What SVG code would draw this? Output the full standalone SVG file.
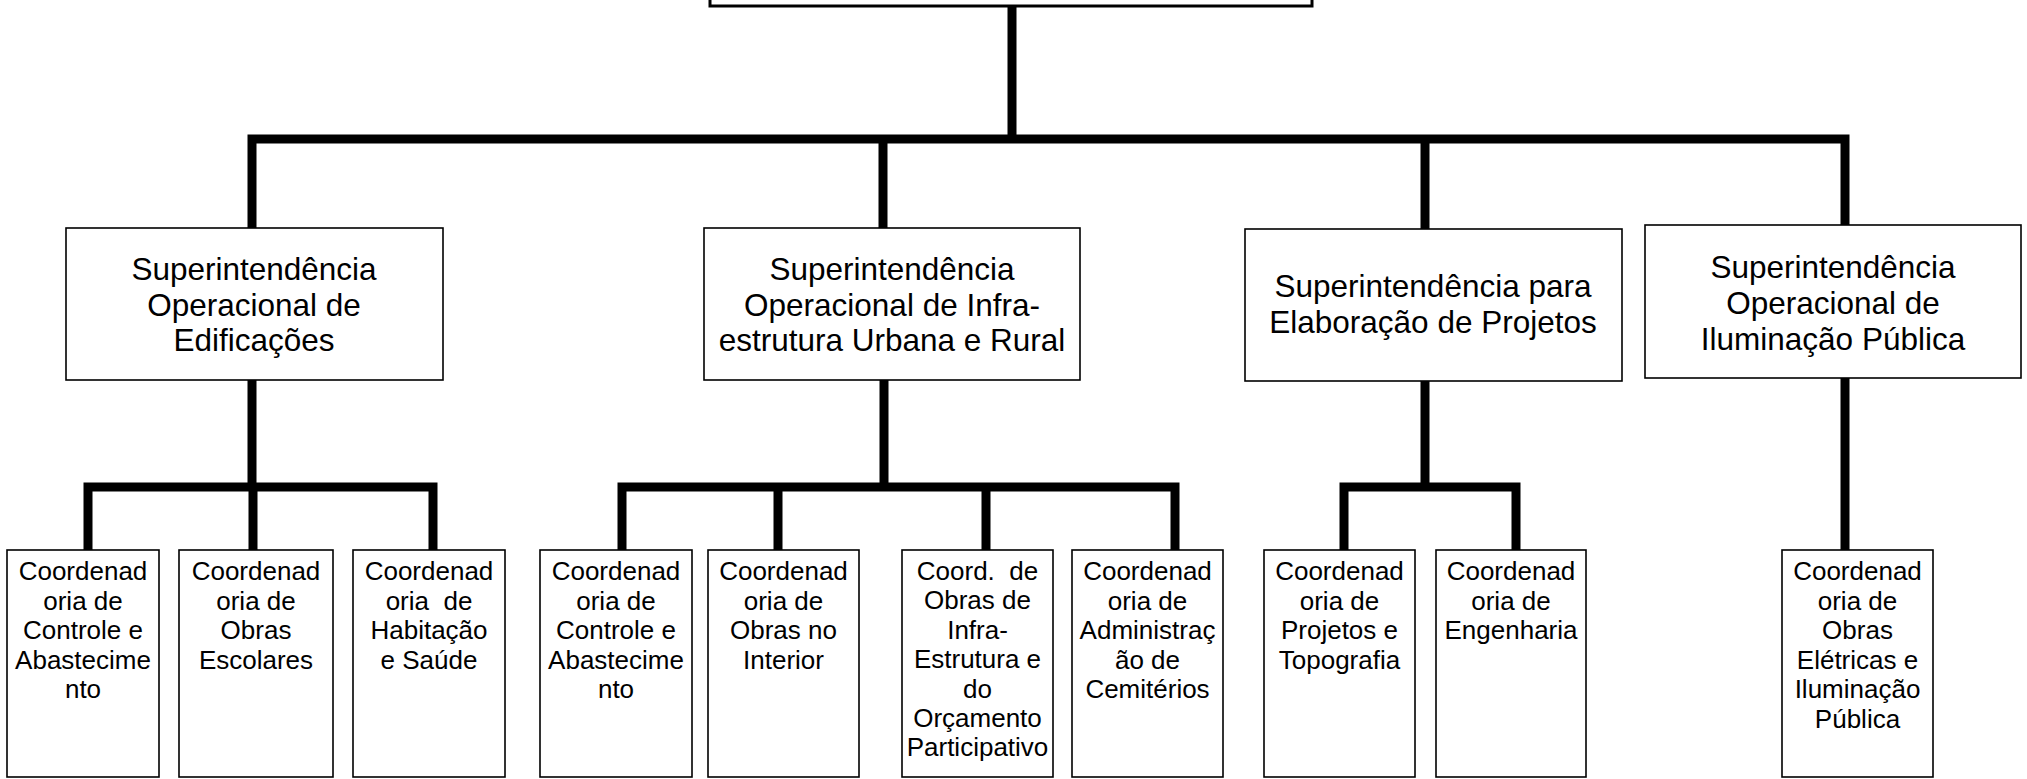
<svg xmlns="http://www.w3.org/2000/svg" width="2027" height="779" viewBox="0 0 2027 779">
<style>
.box{fill:#fff;stroke:#000;stroke-width:1.6}
.con{fill:none;stroke:#000;stroke-width:9;stroke-linejoin:miter;stroke-linecap:butt}
.sup{font-family:"Liberation Sans",Arial,sans-serif;font-size:31.5px;text-anchor:middle;fill:#000}
.crd{font-family:"Liberation Sans",Arial,sans-serif;font-size:26px;text-anchor:middle;fill:#000;white-space:pre}
</style>
<rect width="2027" height="779" fill="#fff"/>
<g id="connectors">
<path class="con" d="M1012,6 V139"/>
<path class="con" d="M252,228 V139 H1845 V225 M883,139 V228 M1425,139 V229"/>
<path class="con" d="M252,380 V487"/>
<path class="con" d="M88,550 V487 H433 V550 M253,487 V550"/>
<path class="con" d="M884,380 V487"/>
<path class="con" d="M622,550 V487 H1175 V550 M778,487 V550 M986,487 V550"/>
<path class="con" d="M1425,381 V487"/>
<path class="con" d="M1344,550 V487 H1516 V550"/>
<path class="con" d="M1845,378 V550"/>
</g>
<g id="top">
<rect class="box" x="710" y="-30" width="602" height="36" style="stroke-width:3"/>
</g>
<g id="sup-edificacoes">
<rect class="box" x="66" y="228" width="377" height="152"/>
<text class="sup" x="254" y="280">Superintendência</text>
<text class="sup" x="254" y="315.5">Operacional de</text>
<text class="sup" x="254" y="351">Edificações</text>
</g>
<g id="sup-infra">
<rect class="box" x="704" y="228" width="376" height="152"/>
<text class="sup" x="892" y="280">Superintendência</text>
<text class="sup" x="892" y="315.5">Operacional de Infra-</text>
<text class="sup" x="892" y="351">estrutura Urbana e Rural</text>
</g>
<g id="sup-projetos">
<rect class="box" x="1245" y="229" width="377" height="152"/>
<text class="sup" x="1433" y="297">Superintendência para</text>
<text class="sup" x="1433" y="332.5">Elaboração de Projetos</text>
</g>
<g id="sup-iluminacao">
<rect class="box" x="1645" y="225" width="376" height="153"/>
<text class="sup" x="1833" y="278">Superintendência</text>
<text class="sup" x="1833" y="314">Operacional de</text>
<text class="sup" x="1833" y="350">Iluminação Pública</text>
</g>
<g id="c-controle-1">
<rect class="box" x="7" y="550" width="152" height="227"/>
<text class="crd" x="83" y="580">Coordenad</text>
<text class="crd" x="83" y="609.6">oria de</text>
<text class="crd" x="83" y="639.2">Controle e</text>
<text class="crd" x="83" y="668.8">Abastecime</text>
<text class="crd" x="83" y="698.4">nto</text>
</g>
<g id="c-escolares">
<rect class="box" x="179" y="550" width="154" height="227"/>
<text class="crd" x="256" y="580">Coordenad</text>
<text class="crd" x="256" y="609.6">oria de</text>
<text class="crd" x="256" y="639.2">Obras</text>
<text class="crd" x="256" y="668.8">Escolares</text>
</g>
<g id="c-habitacao">
<rect class="box" x="353" y="550" width="152" height="227"/>
<text class="crd" x="429" y="580">Coordenad</text>
<text class="crd" x="429" y="609.6">oria  de</text>
<text class="crd" x="429" y="639.2">Habitação</text>
<text class="crd" x="429" y="668.8">e Saúde</text>
</g>
<g id="c-controle-2">
<rect class="box" x="540" y="550" width="152" height="227"/>
<text class="crd" x="616" y="580">Coordenad</text>
<text class="crd" x="616" y="609.6">oria de</text>
<text class="crd" x="616" y="639.2">Controle e</text>
<text class="crd" x="616" y="668.8">Abastecime</text>
<text class="crd" x="616" y="698.4">nto</text>
</g>
<g id="c-interior">
<rect class="box" x="708" y="550" width="151" height="227"/>
<text class="crd" x="783.5" y="580">Coordenad</text>
<text class="crd" x="783.5" y="609.6">oria de</text>
<text class="crd" x="783.5" y="639.2">Obras no</text>
<text class="crd" x="783.5" y="668.8">Interior</text>
</g>
<g id="c-infra-op">
<rect class="box" x="902" y="550" width="151" height="227"/>
<text class="crd" x="977.5" y="580">Coord.  de</text>
<text class="crd" x="977.5" y="609.4">Obras de</text>
<text class="crd" x="977.5" y="638.8">Infra-</text>
<text class="crd" x="977.5" y="668.2">Estrutura e</text>
<text class="crd" x="977.5" y="697.6">do</text>
<text class="crd" x="977.5" y="727">Orçamento</text>
<text class="crd" x="977.5" y="756.4">Participativo</text>
</g>
<g id="c-cemiterios">
<rect class="box" x="1072" y="550" width="151" height="227"/>
<text class="crd" x="1147.5" y="580">Coordenad</text>
<text class="crd" x="1147.5" y="609.6">oria de</text>
<text class="crd" x="1147.5" y="639.2">Administraç</text>
<text class="crd" x="1147.5" y="668.8">ão de</text>
<text class="crd" x="1147.5" y="698.4">Cemitérios</text>
</g>
<g id="c-projetos">
<rect class="box" x="1264" y="550" width="151" height="227"/>
<text class="crd" x="1339.5" y="580">Coordenad</text>
<text class="crd" x="1339.5" y="609.6">oria de</text>
<text class="crd" x="1339.5" y="639.2">Projetos e</text>
<text class="crd" x="1339.5" y="668.8">Topografia</text>
</g>
<g id="c-engenharia">
<rect class="box" x="1436" y="550" width="150" height="227"/>
<text class="crd" x="1511" y="580">Coordenad</text>
<text class="crd" x="1511" y="609.6">oria de</text>
<text class="crd" x="1511" y="639.2">Engenharia</text>
</g>
<g id="c-iluminacao">
<rect class="box" x="1782" y="550" width="151" height="227"/>
<text class="crd" x="1857.5" y="580">Coordenad</text>
<text class="crd" x="1857.5" y="609.6">oria de</text>
<text class="crd" x="1857.5" y="639.2">Obras</text>
<text class="crd" x="1857.5" y="668.8">Elétricas e</text>
<text class="crd" x="1857.5" y="698.4">Iluminação</text>
<text class="crd" x="1857.5" y="728">Pública</text>
</g>
</svg>
